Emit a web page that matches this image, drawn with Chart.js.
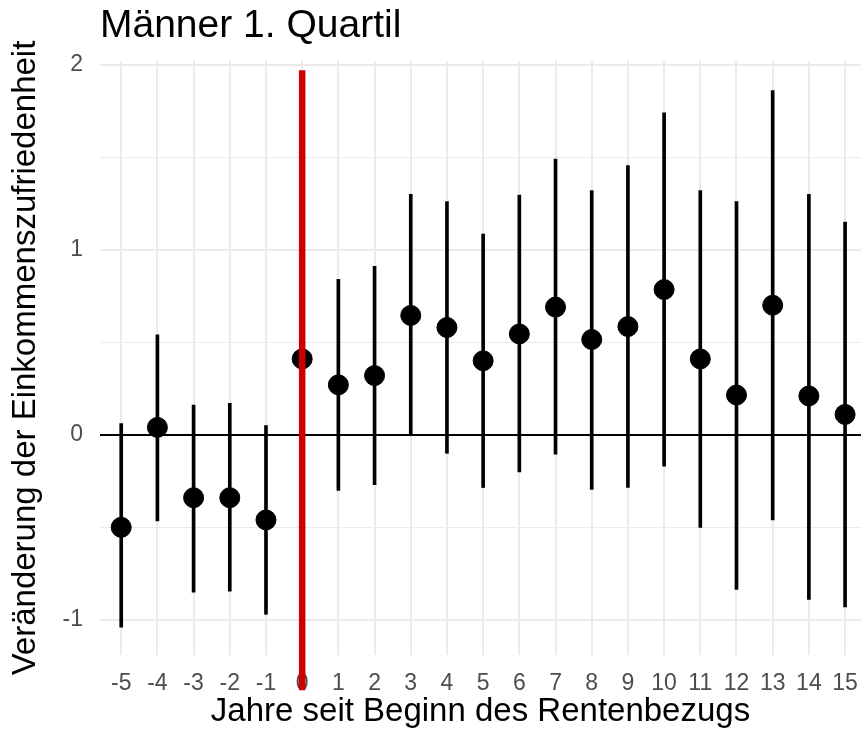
<!DOCTYPE html>
<html>
<head>
<meta charset="utf-8">
<script src="https://cdn.jsdelivr.net/npm/chart.js@4/dist/chart.umd.min.js"></script>
<style>
  html,body{margin:0;padding:0;background:#fff;}
  #wrap{width:861px;height:732px;}
</style>
</head>
<body>
<div id="wrap"><canvas id="c" width="861" height="732"></canvas></div>
<script>
// years since start of pension
const years = [-5,-4,-3,-2,-1,0,1,2,3,4,5,6,7,8,9,10,11,12,13,14,15];
// estimated change in income satisfaction
const estimate = [-0.50,0.04,-0.34,-0.34,-0.46,0.41,0.27,0.32,0.645,0.58,0.40,0.545,0.69,0.515,0.585,0.785,0.41,0.215,0.70,0.21,0.11];
const lower    = [-1.04,-0.465,-0.85,-0.845,-0.97,-0.15,-0.30,-0.27,0.0,-0.10,-0.285,-0.20,-0.105,-0.295,-0.285,-0.17,-0.50,-0.835,-0.46,-0.89,-0.93];
const upper    = [0.06,0.54,0.16,0.17,0.05,0.98,0.84,0.91,1.30,1.26,1.085,1.295,1.49,1.32,1.455,1.74,1.32,1.26,1.86,1.30,1.15];
const yTicks = [-1,-0.5,0,0.5,1,1.5,2];
const xTicks = years;
// red marker at pension start
const markerX = 0;
const markerFrom = -1.38;
const markerTo = 1.97;

const GRID = '#EBEBEB';
const FONT = 'Liberation Sans, Arial, sans-serif';

// panel runs to the right edge like the ggplot original (Chart.js keeps room for the last label)
const fullRight = {
  id:'fullRight',
  afterLayout(chart){
    const x = chart.scales.x;
    chart.chartArea.right = chart.width;
    chart.chartArea.width = chart.chartArea.right - chart.chartArea.left;
    x.right = chart.width;
    x.width = x.right - x.left;
    x.configure();
  }
};

const markerPlugin = {
  id:'marker',
  afterDatasetsDraw(chart){
    const {ctx, scales:{x,y}} = chart;
    const px = x.getPixelForValue(markerX);
    ctx.save();
    ctx.strokeStyle = '#CC0000';
    ctx.lineWidth = 6.5;
    ctx.beginPath();
    ctx.moveTo(px, y.getPixelForValue(markerTo));
    ctx.lineTo(px, y.getPixelForValue(markerFrom));
    ctx.stroke();
    ctx.restore();
  }
};

new Chart(document.getElementById('c'), {
  data:{
    datasets:[
      {
        type:'bar',
        data: years.map((v,i)=>({x:v, y:[lower[i], upper[i]]})),
        backgroundColor:'#000',
        borderWidth:0,
        barThickness:3,
        order:2
      },
      {
        type:'scatter',
        data: years.map((v,i)=>({x:v, y:estimate[i]})),
        backgroundColor:'#000',
        borderColor:'#000',
        pointRadius:10,
        pointHoverRadius:10,
        order:1
      }
    ]
  },
  options:{
    responsive:false,
    animation:false,
    layout:{padding:0},
    plugins:{
      legend:{display:false},
      tooltip:{enabled:false},
      title:{
        display:true,
        text:'Männer 1. Quartil',
        align:'start',
        fullSize:false,
        color:'#000',
        font:{family:FONT, size:39, weight:'normal', lineHeight:1.2},
        padding:{top:3, bottom:11.2}
      }
    },
    scales:{
      x:{
        type:'linear',
        offset:false,
        min:-5.586,
        max:15.44,
        afterBuildTicks(s){ s.ticks = xTicks.map(v=>({value:v})); },
        afterFit(s){ s.height = 77; },
        grid:{color:GRID, lineWidth:2, drawTicks:true, tickLength:15, tickColor:'rgba(0,0,0,0)', offset:false},
        border:{display:false},
        ticks:{
          color:'#4D4D4D', padding:0, maxRotation:0, autoSkip:false,
          font:{family:FONT, size:23},
          callback:v=>String(v)
        },
        title:{
          display:true, text:'Jahre seit Beginn des Rentenbezugs', color:'#000',
          font:{family:FONT, size:33},
          padding:{top:0,bottom:0}
        }
      },
      y:{
        min:-1.19,
        max:2.02,
        afterBuildTicks(s){ s.ticks = yTicks.map(v=>({value:v})); },
        afterFit(s){ s.width = 100; },
        grid:{
          color:c=> c.tick && c.tick.value===0 ? '#000' : GRID,
          lineWidth:c=> Number.isInteger(c.tick && c.tick.value) ? 2 : 1,
          drawTicks:false
        },
        border:{display:false},
        ticks:{
          color:'#4D4D4D', padding:17,
          font:{family:FONT, size:23},
          callback:v=> Number.isInteger(v) ? String(v) : ''
        },
        title:{
          display:true, text:'Veränderung der Einkommenszufriedenheit', color:'#000',
          font:{family:FONT, size:33},
          padding:{top:6,bottom:0}
        }
      }
    }
  },
  plugins:[fullRight, markerPlugin]
});
</script>
</body>
</html>
